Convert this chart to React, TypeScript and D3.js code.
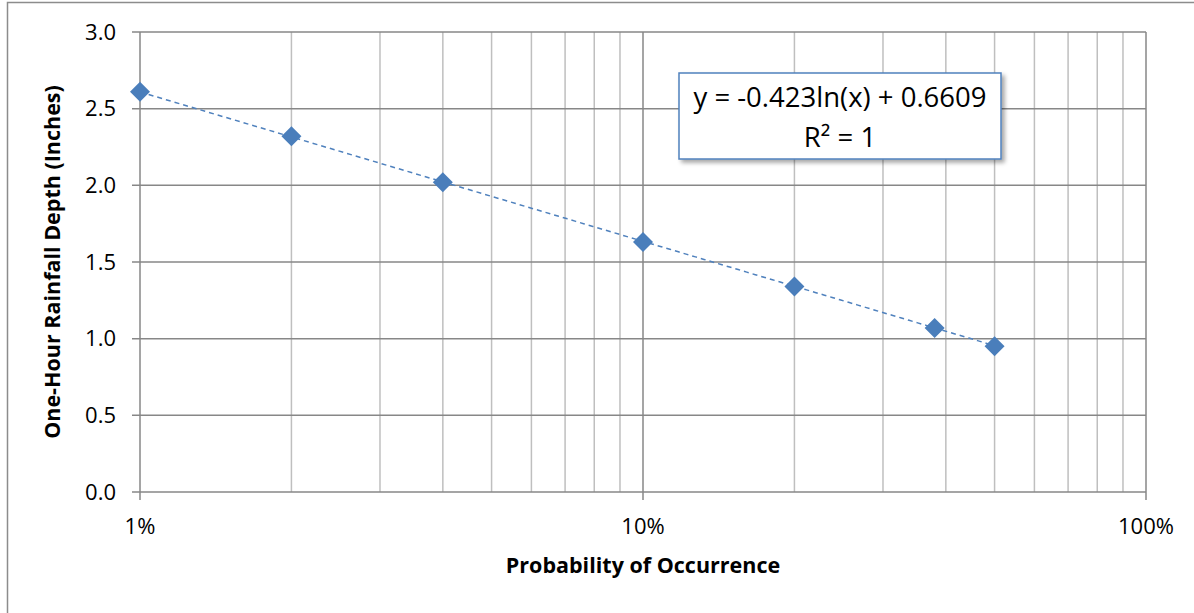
import React, { useEffect, useRef } from 'react';
import * as d3 from 'd3';

// probability of occurrence (fraction) and one-hour rainfall depth (inches)
const probabilities = [0.01, 0.02, 0.04, 0.1, 0.2, 0.38, 0.5];
const depths = [2.61, 2.32, 2.02, 1.63, 1.34, 1.07, 0.95];
const yTicks = [0, 0.5, 1.0, 1.5, 2.0, 2.5, 3.0];
const xMajorTicks = [0.01, 0.1, 1];
const trendCoef = -0.423;
const trendIntercept = 0.6609;
const equationLines = ['y = -0.423ln(x) + 0.6609', 'R² = 1'];

const W = 1194;
const H = 613;
const FONT = '"Open Sans", Lato, sans-serif';

export default function App() {
  const svgRef = useRef<SVGSVGElement>(null);

  useEffect(() => {
    const svg = d3.select(svgRef.current);
    svg.selectAll('*').remove();

    const margin = { top: 32, right: 48, bottom: 121, left: 140 };
    const x = d3.scaleLog().domain([0.01, 1]).range([margin.left, W - margin.right]);
    const y = d3.scaleLinear().domain([0, 3]).range([H - margin.bottom, margin.top]);

    svg.append('rect').attr('width', W).attr('height', H).attr('fill', '#fff');
    // outer chart frame
    svg.append('rect')
      .attr('x', 7.5).attr('y', 2.5)
      .attr('width', W + 20).attr('height', H + 20)
      .attr('fill', 'none').attr('stroke', '#8c8c8c').attr('stroke-width', 1.5);

    // minor vertical gridlines
    const minor: number[] = [];
    [0.01, 0.1].forEach(d => d3.range(2, 10).forEach(k => minor.push(d * k)));
    svg.append('g').selectAll('line').data(minor).enter().append('line')
      .attr('x1', d => x(d)).attr('x2', d => x(d))
      .attr('y1', y(0)).attr('y2', y(3))
      .attr('stroke', '#bfbfbf').attr('stroke-width', 1.5);

    // major vertical gridlines
    svg.append('g').selectAll('line').data(xMajorTicks).enter().append('line')
      .attr('x1', d => x(d)).attr('x2', d => x(d))
      .attr('y1', y(0)).attr('y2', y(3))
      .attr('stroke', '#878787').attr('stroke-width', 1.5);

    // horizontal gridlines + y ticks
    svg.append('g').selectAll('line').data(yTicks).enter().append('line')
      .attr('x1', x(0.01) - 8).attr('x2', x(1))
      .attr('y1', d => y(d)).attr('y2', d => y(d))
      .attr('stroke', '#878787').attr('stroke-width', 1.5);

    // x ticks below axis
    svg.append('g').selectAll('line').data(xMajorTicks).enter().append('line')
      .attr('x1', d => x(d)).attr('x2', d => x(d))
      .attr('y1', y(0)).attr('y2', y(0) + 8)
      .attr('stroke', '#878787').attr('stroke-width', 1.5);

    svg.append('g').selectAll('text').data(yTicks).enter().append('text')
      .attr('x', x(0.01) - 24).attr('y', d => y(d) + 7.5)
      .attr('text-anchor', 'end')
      .style('font-family', FONT).style('font-size', '22px').style('fill', '#000')
      .text(d => d3.format('.1f')(d));

    svg.append('g').selectAll('text').data(xMajorTicks).enter().append('text')
      .attr('x', d => x(d)).attr('y', y(0) + 42)
      .attr('text-anchor', 'middle')
      .style('font-family', FONT).style('font-size', '22px').style('fill', '#000')
      .text(d => d3.format('.0%')(d));

    // axis titles
    svg.append('text')
      .attr('x', (x(0.01) + x(1)) / 2).attr('y', 573)
      .attr('text-anchor', 'middle')
      .style('font-family', FONT).style('font-size', '21.5px').style('font-weight', 'bold')
      .text('Probability of Occurrence');

    svg.append('text')
      .attr('transform', `translate(60,${(y(0) + y(3)) / 2}) rotate(-90)`)
      .attr('text-anchor', 'middle')
      .style('font-family', FONT).style('font-size', '21.5px').style('font-weight', 'bold')
      .text('One-Hour Rainfall Depth (Inches)');

    // log trendline
    const trendPts = d3.range(0, 101).map(i => {
      const p = Math.exp(Math.log(0.01) + (Math.log(0.5) - Math.log(0.01)) * i / 100);
      return [p, trendCoef * Math.log(p) + trendIntercept] as [number, number];
    });
    svg.append('path')
      .datum(trendPts)
      .attr('d', d3.line<[number, number]>().x(d => x(d[0])).y(d => y(d[1])))
      .attr('fill', 'none').attr('stroke', '#4f81bd').attr('stroke-width', 1.5)
      .attr('stroke-dasharray', '5,4');

    // markers
    const diamond = d3.symbol().type(d3.symbolSquare).size(200);
    svg.append('g').selectAll('path').data(probabilities).enter().append('path')
      .attr('d', diamond)
      .attr('transform', (d, i) => `translate(${x(d)},${y(depths[i])}) rotate(45)`)
      .attr('fill', '#4a7ebb');

    // equation box
    const defs = svg.append('defs');
    const filter = defs.append('filter').attr('id', 'shadow').attr('x', '-10%').attr('y', '-20%').attr('width', '130%').attr('height', '150%');
    filter.append('feDropShadow').attr('dx', 3).attr('dy', 3).attr('stdDeviation', 2).attr('flood-color', '#000').attr('flood-opacity', 0.35);

    const box = svg.append('g');
    box.append('rect')
      .attr('x', 679).attr('y', 73).attr('width', 322).attr('height', 86)
      .attr('fill', '#fff').attr('stroke', '#4f81bd').attr('stroke-width', 1.5)
      .attr('filter', 'url(#shadow)');
    box.selectAll('text').data(equationLines).enter().append('text')
      .attr('x', 840).attr('y', (d, i) => 107 + i * 40)
      .attr('text-anchor', 'middle')
      .style('font-family', FONT).style('font-size', '27.5px').style('fill', '#000')
      .text(d => d);
  }, []);

  return (
    <svg ref={svgRef} width={W} height={H} style={{ position: 'absolute', left: 0, top: 0 }} />
  );
}
